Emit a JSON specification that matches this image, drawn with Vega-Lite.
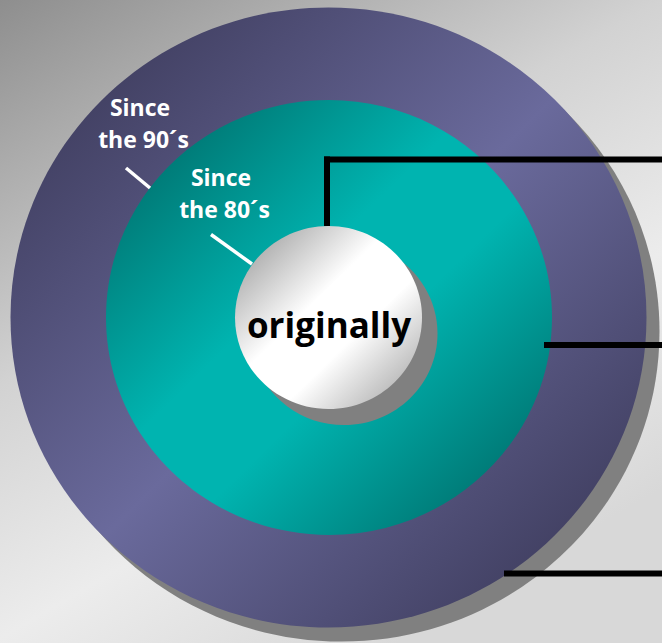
{
  "$schema": "https://vega.github.io/schema/vega-lite/v6.json",
  "width": 662,
  "height": 643,
  "padding": 0,
  "autosize": {"type": "none"},
  "background": "#d8d8d8",
  "config": {"view": {"stroke": null}, "axis": {"disable": true}},
  "encoding": {
    "x": {"field": "x", "type": "quantitative", "scale": {"domain": [0, 662], "nice": false, "zero": false}, "axis": null},
    "y": {"field": "y", "type": "quantitative", "scale": {"domain": [0, 643], "nice": false, "zero": false, "reverse": true}, "axis": null}
  },
  "layer": [
    {
      "data": {"values": [{"x": 0, "y": 0, "x2": 662, "y2": 643}]},
      "mark": {"type": "rect", "fill": {"gradient": "linear", "x1": 0, "y1": 0, "x2": 0.6, "y2": 1, "stops": [{"offset": 0, "color": "#8e8e8e"}, {"offset": 0.44, "color": "#d2d2d2"}, {"offset": 0.73, "color": "#ececec"}, {"offset": 1, "color": "#d8d8d8"}]}},
      "encoding": {"x2": {"field": "x2"}, "y2": {"field": "y2"}}
    },
    {
      "data": {"values": [{"ring": "outer shadow", "x": 341.5, "y": 331.5}]},
      "mark": {"type": "point", "filled": true, "fill": "#808080", "opacity": 1, "strokeWidth": 0, "shape": "M-1,0A1,0.975,0,1,0,1,0A1,0.975,0,1,0,-1,0Z", "size": 404496}
    },
    {
      "data": {"values": [{"ring": "Since the 90´s", "x": 328.5, "y": 317.5}]},
      "mark": {"type": "point", "filled": true, "opacity": 1, "strokeWidth": 0, "shape": "M-1,0A1,0.975,0,1,0,1,0A1,0.975,0,1,0,-1,0Z", "size": 404496,
        "fill": {"gradient": "linear", "x1": 0, "y1": 0, "x2": 1, "y2": 1, "stops": [{"offset": 0, "color": "#34324f"}, {"offset": 0.5, "color": "#6a6a9c"}, {"offset": 1, "color": "#34324f"}]}}
    },
    {
      "data": {"values": [{"ring": "Since the 80´s", "x": 329, "y": 317.5}]},
      "mark": {"type": "point", "filled": true, "opacity": 1, "strokeWidth": 0, "shape": "M-1,0A1,0.975,0,1,0,1,0A1,0.975,0,1,0,-1,0Z", "size": 198916,
        "fill": {"gradient": "linear", "x1": 0, "y1": 0, "x2": 1, "y2": 1, "stops": [{"offset": 0, "color": "#005f5c"}, {"offset": 0.42, "color": "#00b4b0"}, {"offset": 0.58, "color": "#00b4b0"}, {"offset": 1, "color": "#005f5c"}]}}
    },
    {
      "data": {"values": [{"ring": "inner shadow", "x": 344, "y": 333.5}]},
      "mark": {"type": "point", "filled": true, "fill": "#808080", "opacity": 1, "strokeWidth": 0, "shape": "M-1,0A1,0.979,0,1,0,1,0A1,0.979,0,1,0,-1,0Z", "size": 34969}
    },
    {
      "data": {"values": [{"ring": "originally", "x": 328.5, "y": 317.5}]},
      "mark": {"type": "point", "filled": true, "opacity": 1, "strokeWidth": 0, "shape": "M-1,0A1,0.979,0,1,0,1,0A1,0.979,0,1,0,-1,0Z", "size": 34969,
        "fill": {"gradient": "linear", "x1": 0, "y1": 0, "x2": 1, "y2": 1, "stops": [{"offset": 0, "color": "#8e8e8e"}, {"offset": 0.42, "color": "#ffffff"}, {"offset": 0.62, "color": "#ffffff"}, {"offset": 1, "color": "#9a9a9a"}]}}
    },
    {
      "data": {"values": [
        {"x": 327, "y": 226, "x2": 327, "y2": 156.5},
        {"x": 324, "y": 159.5, "x2": 662, "y2": 159.5},
        {"x": 544, "y": 345, "x2": 662, "y2": 345},
        {"x": 504, "y": 573.5, "x2": 662, "y2": 573.5}
      ]},
      "mark": {"type": "rule", "color": "#000000", "strokeWidth": 6, "strokeCap": "butt"},
      "encoding": {"x2": {"field": "x2"}, "y2": {"field": "y2"}}
    },
    {
      "data": {"values": [
        {"x": 126, "y": 168, "x2": 150, "y2": 188},
        {"x": 211, "y": 234.5, "x2": 252, "y2": 264}
      ]},
      "mark": {"type": "rule", "color": "#ffffff", "strokeWidth": 3.5},
      "encoding": {"x2": {"field": "x2"}, "y2": {"field": "y2"}}
    },
    {
      "data": {"values": [
        {"label": "Since", "x": 140, "y": 116},
        {"label": "the 90´s", "x": 143.5, "y": 148},
        {"label": "Since", "x": 221, "y": 186},
        {"label": "the 80´s", "x": 224.5, "y": 218}
      ]},
      "mark": {"type": "text", "color": "#ffffff", "font": "Open Sans", "fontWeight": "bold", "fontSize": 23, "align": "center", "baseline": "alphabetic"},
      "encoding": {"text": {"field": "label"}}
    },
    {
      "data": {"values": [{"label": "originally", "x": 329, "y": 338}]},
      "mark": {"type": "text", "color": "#000000", "font": "Open Sans", "fontWeight": "bold", "fontSize": 35, "align": "center", "baseline": "alphabetic"},
      "encoding": {"text": {"field": "label"}}
    }
  ]
}
